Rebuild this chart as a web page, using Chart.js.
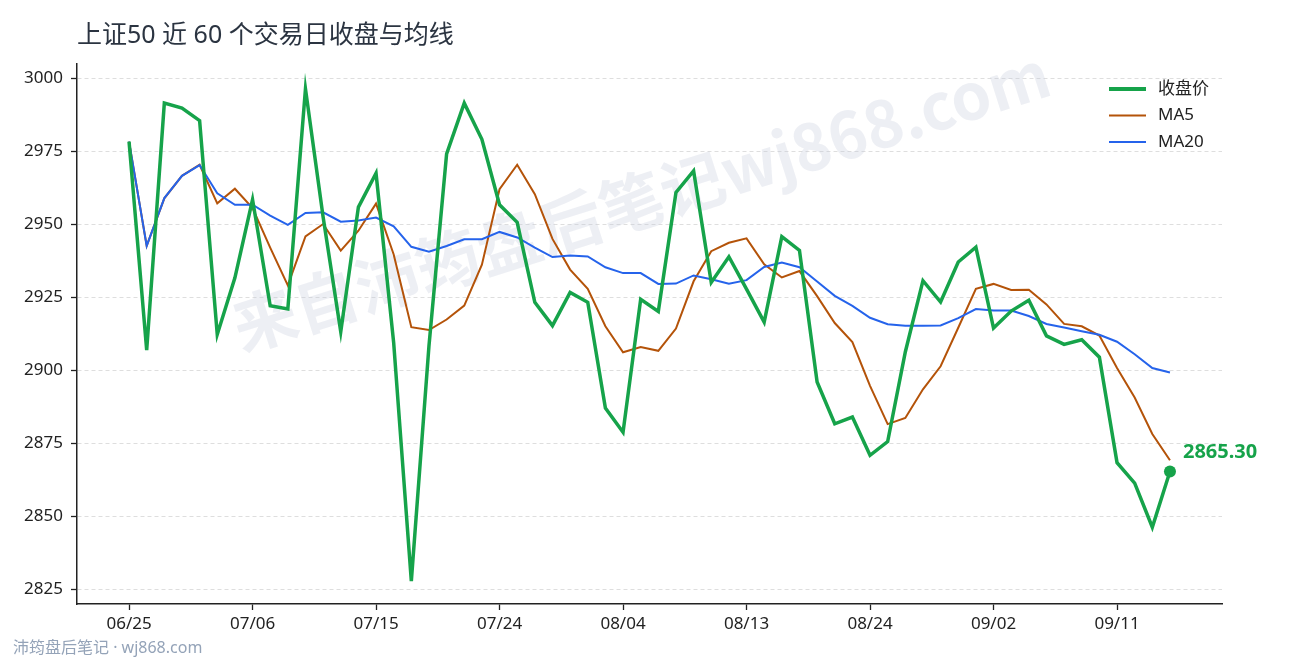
<!DOCTYPE html>
<html lang="zh-CN">
<head>
<meta charset="utf-8">
<title>上证50 近 60 个交易日收盘与均线</title>
<script src="https://cdn.jsdelivr.net/npm/chart.js@4.4.1/dist/chart.umd.min.js"></script>
<style>
  html, body { margin: 0; padding: 0; background: #fff; }
  canvas { display: block; }
</style>
</head>
<body>
<canvas id="chart" width="1290" height="660"></canvas>
<script>
// trading days (2020, weekdays)
const dates = [
  "06/25", "06/26", "06/29", "06/30", "07/01", "07/02", "07/03", "07/06", "07/07", "07/08",
  "07/09", "07/10", "07/13", "07/14", "07/15", "07/16", "07/17", "07/20", "07/21", "07/22",
  "07/23", "07/24", "07/27", "07/28", "07/29", "07/30", "07/31", "08/03", "08/04", "08/05",
  "08/06", "08/07", "08/10", "08/11", "08/12", "08/13", "08/14", "08/17", "08/18", "08/19",
  "08/20", "08/21", "08/24", "08/25", "08/26", "08/27", "08/28", "08/31", "09/01", "09/02",
  "09/03", "09/04", "09/07", "09/08", "09/09", "09/10", "09/11", "09/14", "09/15", "09/16"
];

const closes = [
  2978.2, 2906.8, 2991.4, 2989.7, 2985.4, 2912.2, 2931.6, 2958.4, 2922.0, 2920.9,
  2996.3, 2952.4, 2913.1, 2955.8, 2967.4, 2909.3, 2827.7, 2908.3, 2974.0, 2991.4,
  2979.0, 2956.6, 2950.6, 2923.2, 2915.2, 2926.6, 2923.2, 2887.0, 2878.7, 2924.2,
  2920.1, 2960.8, 2968.2, 2930.0, 2938.8, 2927.7, 2916.4, 2945.7, 2941.0, 2895.9,
  2881.6, 2883.9, 2870.8, 2875.5, 2906.2, 2930.6, 2923.3, 2937.0, 2942.1, 2914.4,
  2920.2, 2923.9, 2911.7, 2908.8, 2910.4, 2904.4, 2868.3, 2861.3, 2846.2, 2865.30
];

const ma5 = [
  2978.2, 2942.5, 2958.8, 2966.5, 2970.3, 2957.1, 2962.1, 2955.5, 2941.9, 2929.0,
  2945.8, 2950.0, 2940.9, 2947.7, 2957.0, 2939.6, 2914.7, 2913.7, 2917.3, 2922.1,
  2936.1, 2961.9, 2970.3, 2960.2, 2944.9, 2934.4, 2927.8, 2915.0, 2906.1, 2907.9,
  2906.6, 2914.2, 2930.4, 2940.7, 2943.6, 2945.1, 2936.2, 2931.7, 2933.9, 2925.3,
  2916.1, 2909.6, 2894.6, 2881.5, 2883.6, 2893.4, 2901.3, 2914.5, 2927.8, 2929.5,
  2927.4, 2927.5, 2922.5, 2915.8, 2915.0, 2911.8, 2900.7, 2890.6, 2878.1, 2869.1
];

const ma20 = [
  2978.2, 2942.5, 2958.9, 2966.5, 2970.2, 2960.5, 2956.6, 2956.6, 2952.9, 2949.7,
  2953.8, 2954.0, 2950.8, 2951.2, 2952.2, 2949.2, 2942.2, 2940.5, 2942.5, 2944.8,
  2944.8, 2947.3, 2945.4, 2941.9, 2938.7, 2939.2, 2938.9, 2935.2, 2933.2, 2933.2,
  2929.5, 2929.6, 2932.4, 2931.1, 2929.6, 2930.8, 2935.3, 2936.8, 2935.2, 2930.3,
  2925.4, 2922.0, 2917.9, 2915.7, 2915.2, 2915.2, 2915.3, 2917.8, 2920.9, 2920.4,
  2920.4, 2918.5, 2915.8, 2914.6, 2913.3, 2912.1, 2909.7, 2905.4, 2900.7, 2899.2
];

const xTickIdx = [0, 7, 14, 21, 28, 35, 42, 49, 56];
const yTicks = [2825, 2850, 2875, 2900, 2925, 2950, 2975, 3000];

const FONT = '"Noto Sans", "Noto Sans CJK SC", sans-serif';
const FONT_CJK = '"Noto Sans CJK SC", sans-serif';
const GREEN = "#16a34a";
const ORANGE = "#b45309";
const BLUE = "#2563eb";

function toPoints(arr) {
  return arr.map((v, i) => ({ x: i, y: v }));
}

const lastIdx = closes.length - 1;

// title, footer, watermark, legend and last value label
const decor = {
  id: "decor",
  beforeDatasetsDraw(chart) {
    const ctx = chart.ctx;
    ctx.save();
    ctx.translate(641, 200);
    ctx.rotate(-17.6 * Math.PI / 180);
    ctx.font = "bold 64px " + FONT_CJK;
    ctx.fillStyle = "rgba(200, 205, 220, 0.32)";
    ctx.textAlign = "center";
    ctx.textBaseline = "middle";
    ctx.fillText("来自沛筠盘后笔记wj868.com", 0, 0);
    ctx.restore();
  },
  afterDraw(chart) {
    const ctx = chart.ctx;
    ctx.save();
    ctx.textBaseline = "middle";
    ctx.textAlign = "left";

    ctx.font = "25px " + FONT;
    ctx.fillStyle = "#2b3441";
    ctx.fillText("上证50 近 60 个交易日收盘与均线", 77, 36);

    ctx.font = "16px " + FONT;
    ctx.fillStyle = "#94a3b8";
    ctx.fillText("沛筠盘后笔记 · wj868.com", 13, 648);

    // legend
    const items = [
      { label: "收盘价", color: GREEN, width: 4 },
      { label: "MA5", color: ORANGE, width: 2 },
      { label: "MA20", color: BLUE, width: 2 }
    ];
    items.forEach((it, k) => {
      const y = 89 + k * 26.5;
      ctx.beginPath();
      ctx.strokeStyle = it.color;
      ctx.lineWidth = it.width;
      ctx.moveTo(1109, y);
      ctx.lineTo(1146, y);
      ctx.stroke();
      ctx.font = "17px " + FONT;
      ctx.fillStyle = "#222";
      ctx.fillText(it.label, 1158, y);
    });

    // last close label
    const pt = chart.getDatasetMeta(0).data[lastIdx];
    ctx.font = "bold 20px " + FONT;
    ctx.fillStyle = GREEN;
    ctx.fillText(closes[lastIdx].toFixed(2), pt.x + 13, pt.y - 19);
    ctx.restore();
  }
};

new Chart(document.getElementById("chart").getContext("2d"), {
  type: "line",
  data: {
    datasets: [
      {
        label: "收盘价",
        data: toPoints(closes),
        borderColor: GREEN,
        backgroundColor: GREEN,
        borderWidth: 3.5,
        pointRadius: (c) => (c.dataIndex === lastIdx ? 6 : 0),
        pointBorderWidth: 0,
        pointBackgroundColor: GREEN,
        tension: 0,
        order: 0
      },
      {
        label: "MA5",
        data: toPoints(ma5),
        borderColor: ORANGE,
        borderWidth: 2,
        pointRadius: 0,
        tension: 0,
        order: 2
      },
      {
        label: "MA20",
        data: toPoints(ma20),
        borderColor: BLUE,
        borderWidth: 2,
        pointRadius: 0,
        tension: 0,
        order: 1
      }
    ]
  },
  options: {
    responsive: false,
    devicePixelRatio: 1,
    animation: false,
    layout: { padding: { left: 0, right: 68, top: 64, bottom: 0 } },
    plugins: {
      legend: { display: false },
      title: { display: false },
      tooltip: { enabled: false }
    },
    scales: {
      x: {
        type: "linear",
        min: -2.95,
        max: 61.95,
        afterBuildTicks: (s) => { s.ticks = xTickIdx.map((v) => ({ value: v })); },
        afterFit: (s) => { s.height = 56; },
        ticks: {
          callback: (v) => dates[v],
          font: { family: FONT, size: 17 },
          color: "#222",
          padding: 4,
          maxRotation: 0,
          autoSkip: false
        },
        grid: {
          drawOnChartArea: false,
          drawTicks: true,
          tickLength: 6,
          tickColor: "#222",
          tickWidth: 1.3
        },
        border: { display: true, color: "#222", width: 1.5 }
      },
      y: {
        min: 2819.9,
        max: 3004.8,
        afterBuildTicks: (s) => { s.ticks = yTicks.map((v) => ({ value: v })); },
        afterFit: (s) => { s.width = 77; },
        ticks: {
          callback: (v) => String(v),
          font: { family: FONT, size: 17 },
          color: "#222",
          padding: 8
        },
        grid: {
          color: "#dedede",
          lineWidth: 1,
          drawTicks: true,
          tickLength: 6,
          tickColor: "#222",
          tickWidth: 1.3,
          tickBorderDash: []
        },
        border: { display: true, color: "#222", width: 1.5, dash: [4, 3] }
      }
    }
  },
  plugins: [decor]
});
</script>
</body>
</html>
